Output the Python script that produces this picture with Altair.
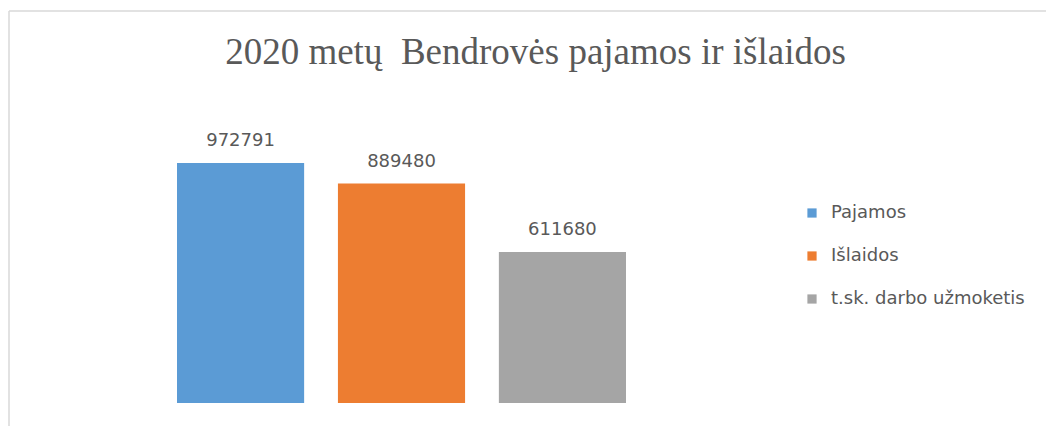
import altair as alt
import pandas as pd

categories = ["Pajamos", "Išlaidos", "t.sk. darbo užmoketis"]
values = [972791, 889480, 611680]
colors = ["#5b9bd5", "#ed7d31", "#a5a5a5"]
title_text = "2020 metų\u00a0 Bendrovės pajamos ir išlaidos"

df = pd.DataFrame({"category": categories, "value": values})
frame_df = pd.DataFrame({"k": [0]})

x_enc = alt.X("category:N", sort=categories, axis=None,
              scale=alt.Scale(range=[168, 617], paddingInner=0.21, paddingOuter=0))
y_enc = alt.Y("value:Q", axis=None,
              scale=alt.Scale(domain=[0, 1200000], range=[392, 96], nice=False))

bars = alt.Chart(df).mark_bar().encode(
    x=x_enc,
    y=y_enc,
    color=alt.Color("category:N", sort=categories,
                    scale=alt.Scale(domain=categories, range=colors),
                    legend=alt.Legend(
                        title=None, orient="none", legendX=794, legendY=193,
                        symbolType="square", symbolSize=85, symbolStrokeWidth=0,
                        labelFont="DejaVu Sans", labelFontSize=18, labelColor="#595959",
                        labelOffset=10, rowPadding=25, padding=0, labelLimit=0,
                    )),
)

labels = alt.Chart(df).mark_text(
    baseline="alphabetic", dy=-17, font="DejaVu Sans", fontSize=18, color="#595959"
).encode(
    x=x_enc,
    y=y_enc,
    text=alt.Text("value:Q", format="d"),
)

left_border = alt.Chart(frame_df).mark_rule(color="#d9d9d9", strokeWidth=1.5).encode(
    x=alt.value(0), y=alt.value(0), y2=alt.value(440)
)
top_border = alt.Chart(frame_df).mark_rule(color="#d9d9d9", strokeWidth=1.5).encode(
    x=alt.value(0), x2=alt.value(1060), y=alt.value(0)
)

chart = alt.layer(left_border, top_border, bars, labels).properties(
    width=1037,
    height=415,
    autosize=alt.AutoSizeParams(type="none"),
    padding={"left": 1, "top": 3, "right": 0, "bottom": 0},
    title=alt.TitleParams(
        text=title_text, font="Liberation Serif", fontSize=37, fontWeight="normal",
        color="#595959", anchor="middle", frame="group", baseline="alphabetic",
        offset=0, dy=91, dx=8,
    ),
).configure_view(stroke=None)

chart.save("out.html", embed_options={"renderer": "svg", "actions": False})
